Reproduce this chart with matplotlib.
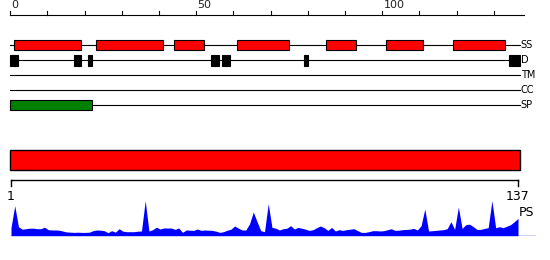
import matplotlib
matplotlib.use("Agg")
import matplotlib.pyplot as plt
from matplotlib.patches import Rectangle

plt.rcParams['font.family'] = ['DejaVu Sans']

# 序列长度与各条轨道的区段
seq_len = 137
ruler_ticks = list(range(0, 131, 10))
ruler_labels = {0: "0", 50: "50", 100: "100"}

ss_segments = [(1, 19), (23, 41), (44, 52), (61, 75), (85, 93), (101, 111), (119, 133)]
d_segments = [(0, 2), (17, 19), (21, 22), (54, 56), (57, 59), (79, 80), (134, 137)]
tm_segments = []
cc_segments = []
sp_segments = [(0, 22)]

track_names = ["SS", "D", "TM", "CC", "SP"]

# PS 曲线 (每个残基一个值)
ps_values = [
    8, 30, 9, 6.5, 7, 7.5, 7.5, 7, 7, 8.5,
    6, 5.7, 5.7, 5.5, 4.5, 3.7, 3.5, 3.3, 3.5, 3.3,
    3.3, 3.5, 5, 5.7, 5.5, 5, 3, 5, 3.5, 7,
    4.5, 4, 4, 4, 4.5, 4.7, 35, 4.7, 6, 8.5,
    6.7, 7.7, 7.7, 7.7, 6.3, 7.7, 3.3, 5.7, 5.5, 5.3,
    6.7, 5.3, 5.7, 5.5, 5.3, 4.5, 3.3, 4, 5.5, 6.5,
    9.7, 7.5, 5.7, 5.7, 12, 23.7, 14, 5, 4, 32,
    8.3, 7.5, 5.7, 7, 7.5, 10, 6.7, 8.3, 7.5, 6.5,
    5.3, 6, 8, 9.7, 8, 5.3, 8.3, 4.7, 6, 5.3,
    6, 6.5, 7, 5, 3.3, 3.3, 4, 5, 5, 4.7,
    5, 6, 7, 5.3, 5.5, 6, 6.3, 6.5, 7.3, 5.7,
    10, 26.7, 4.7, 5, 5.3, 5.7, 6, 7, 14, 6.3,
    28.7, 7.3, 11, 11.5, 9, 6.3, 6.3, 7.3, 8, 35,
    8, 9, 8, 9.5, 11, 14, 17.3,
]
residues = list(range(1, seq_len + 1))

W, H = 550, 260
fig = plt.figure(figsize=(W / 100, H / 100), dpi=100)

# 上半部分: 位置 0 在 10.3px, 每单位 3.72px
ax = fig.add_axes([0, 0, 1, 1])
ax.set_xlim(-10.3 / 3.72, (W - 10.3) / 3.72)
ax.set_ylim(H, 0)
ax.axis("off")

lw = 0.8
# 标尺
ax.plot([0, seq_len + 1], [15, 15], color="black", lw=lw)
for t in ruler_ticks:
    ax.plot([t, t], [15, 10.5], color="black", lw=lw)
    if t in ruler_labels:
        ax.text(t + 0.3, 10.5, ruler_labels[t], fontsize=8, ha="left", va="bottom",
                color="#222222")

track_y = [45, 60.3, 75.3, 90, 105.3]
track_segs = [ss_segments, d_segments, tm_segments, cc_segments, sp_segments]
track_color = ["#ff0000", "#000000", "#000000", "#000000", "#008000"]
track_h = [10.4, 10.7, 10, 10, 10.3]

for name, y, segs, c, h in zip(track_names, track_y, track_segs, track_color, track_h):
    ax.plot([0, seq_len], [y, y], color="black", lw=lw, zorder=1)
    for s, e in segs:
        ax.add_patch(Rectangle((s, y - h / 2), e - s, h, facecolor=c,
                               edgecolor="black", lw=lw, zorder=2))
    ax.text(seq_len + 0.2, y, name, fontsize=7.8, ha="left", va="center",
            fontstretch="condensed")

# 整条红色条
ax.add_patch(Rectangle((0, 150), seq_len, 20.3, facecolor="#ff0000",
                       edgecolor="black", lw=1.0))

# 下半部分: 残基 1 在 11px, 每残基 3.728px
ax2 = fig.add_axes([0, 0, 1, 1])
ax2.set_xlim(1 - 11 / 3.728, 1 + (W - 11) / 3.728)
ax2.set_ylim(H, 0)
ax2.axis("off")
ax2.plot([1, seq_len], [180.3, 180.3], color="black", lw=1.0)
for r in (1, seq_len):
    ax2.plot([r, r], [180.3, 186], color="black", lw=1.0)
ax2.text(1, 189.5, "1", fontsize=9, ha="center", va="top")
ax2.text(seq_len, 189.5, str(seq_len), fontsize=9, ha="center", va="top")
ax2.text(seq_len + 0.3, 205.5, "PS", fontsize=9, ha="left", va="top")

# PS 曲线
ax3 = fig.add_axes([0, (H - 235.7) / H, 1, 40 / H])
ax3.set_xlim(1 - 11 / 3.728, 1 + (W - 11) / 3.728)
ax3.set_ylim(0, 40)
ax3.axis("off")
ax3.fill_between(residues, ps_values, 0, color="#0000ff", lw=0)
ax3.plot([1, seq_len + 4.5], [0, 0], color="#0000ff", lw=1.0)

fig.savefig("out.png", dpi=100)
